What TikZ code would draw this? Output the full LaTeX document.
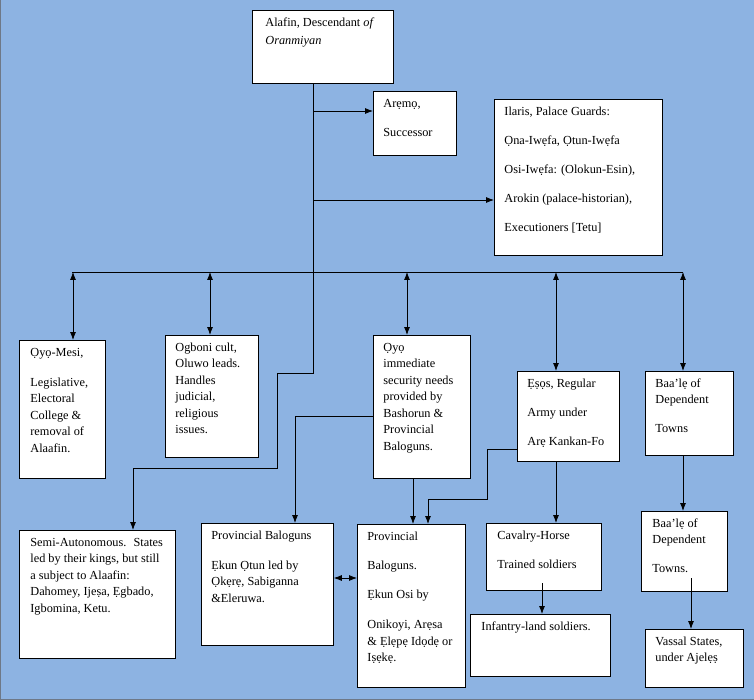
\documentclass[tikz,border=0pt]{standalone}
\usepackage{fontspec}
\setmainfont{Liberation Serif}
\usepackage{tikz}
\usetikzlibrary{arrows.meta,positioning}
\definecolor{skyback}{RGB}{141,179,226}
\definecolor{edgegray}{RGB}{110,120,135}
\tikzset{
  >={Latex[length=8pt,width=6pt]},
  box/.style={draw, fill=white, line width=0.8pt, inner sep=0pt, anchor=north west,
              font=\fontsize{12.3}{16.5}\selectfont},
  link/.style={line width=0.8pt},
}
% width, height, left pad, text
\newcommand{\boxtext}[4]{%
  \parbox[c][#2pt][t]{#1pt}{\raggedright\leftskip=#3pt\vspace*{4.5pt}\strut#4}}

\begin{document}
\begin{tikzpicture}[x=1pt, y=-1pt]
    \useasboundingbox[fill=skyback] (0,0) rectangle (754,700);
    \draw[edgegray, line width=1pt] (0.5,0) -- (0.5,699.5) -- (754,699.5);

    \node[box] (alafin) at (252,10)  {\boxtext{141}{73}{13}{Alafin, Descendant \textit{of}\\[1.5pt]\textit{Oranmiyan}}};
    \node[box] (aremo)  at (373,91)  {\boxtext{83}{64}{10}{Arẹmọ,\\[13pt]Successor}};
    \node[box] (ilaris) at (494,99)  {\boxtext{168}{156}{10}{Ilaris, Palace Guards:\\[12.5pt]Ọna-Iwẹfa, Ọtun-Iwẹfa\\[12.5pt]Osi-Iwẹfa: (Olokun-Esin),\\[12.5pt]Arokin (palace-historian),\\[12.5pt]Executioners [Tetu]}};

    \node[box] (mesi)   at (19,340)  {\boxtext{86}{138}{11}{Ọyọ-Mesi,\\[13.5pt]Legislative,\\Electoral\\College \&\\removal of\\Alaafin.}};
    \node[box] (ogboni) at (165,335) {\boxtext{93}{122}{10}{Ogboni cult,\\Oluwo leads.\\Handles\\judicial,\\religious\\issues.}};
    \node[box] (oyo)    at (373,335) {\boxtext{97}{143}{10}{Ọyọ\\immediate\\security needs\\provided by\\Bashorun \&\\Provincial\\Baloguns.}};
    \node[box] (esos)   at (517,371) {\boxtext{102}{90}{10}{Ẹṣọs, Regular\\[12.5pt]Army under\\[12.5pt]Arẹ Kankan-Fo}};
    \node[box] (baale)  at (645,371) {\boxtext{88}{84}{10}{Baa’lẹ of\\Dependent\\[12.5pt]Towns}};

    \node[box] (semi)   at (19,530)  {\boxtext{156}{128}{11}{Semi-Autonomous.~ States\\led by their kings, but still\\a subject to Alaafin:\\Dahomey, Ijeṣa, Ẹgbado,\\Igbomina, Ketu.}};
    \node[box] (prov)   at (201,523) {\boxtext{132}{122}{10}{Provincial Baloguns\\[13.5pt]Ẹkun Ọtun led by\\Ọkẹrẹ, Sabiganna\\\&Eleruwa.}};
    \node[box] (osi)    at (357,524) {\boxtext{108}{163}{10}{Provincial\\[13pt]Baloguns.\\[12.5pt]Ẹkun Osi by\\[13.5pt]Onikoyi, Arẹsa\\\& Ẹlẹpẹ Idọdẹ or\\Iṣẹkẹ.}};
    \node[box] (cav)    at (486,523) {\boxtext{115}{67}{11}{Cavalry-Horse\\[12.5pt]Trained soldiers}};
    \node[box] (inf)    at (470,614) {\boxtext{140}{62}{11}{Infantry-land soldiers.}};
    \node[box] (baaletwo) at (641,511) {\boxtext{86}{80}{11}{Baa’lẹ of\\Dependent\\[12.5pt]Towns.}};
    \node[box] (vassal) at (645,629) {\boxtext{98}{58}{10}{Vassal States,\\under Ajelẹṣ}};

    % trunk from the Alafin
    \coordinate (toaremo)  at (313,111);
    \coordinate (toilaris) at (313,200);
    \coordinate (bend1)    at (313,373);
    \coordinate (bend2)    at (277,373);
    \coordinate (bend3)    at (277,468);
    \coordinate (bend4)    at (133,468);
    \draw[link] (alafin.south -| bend1) -- (bend1) -- (bend2) -- (bend3) -- (bend4);
    \draw[link, ->] (bend4) -- (bend4 |- semi.north);
    \draw[link, ->] (toaremo) -- (toaremo -| aremo.west);
    \draw[link, ->] (toilaris) -- (toilaris -| ilaris.west);

    % bus
    \coordinate (busleft)  at (72,272);
    \coordinate (busright) at (683,272);
    \draw[link] (busleft) -- (busright);
    \foreach \x/\n in {73/mesi, 210/ogboni, 407/oyo, 556/esos, 683/baale}
      \draw[link, <->] (\x,272) -- (\x,0 |- \n.north);

    % lower links
    \coordinate (oyobend) at (295,416);
    \draw[link, ->] (oyobend -| oyo.west) -- (oyobend) -- (oyobend |- prov.north);
    \draw[link, ->] (413,0 |- oyo.south) -- (413,0 |- osi.north);
    \coordinate (esosbend1) at (487,449);
    \coordinate (esosbend2) at (428,499);
    \draw[link, ->] (esosbend1 -| esos.west) -- (esosbend1) |- (esosbend2) -- (esosbend2 |- osi.north);
    \draw[link, ->] (556,0 |- esos.south) -- (556,0 |- cav.north);
    \draw[link, ->] (542,583) -- (542,0 |- inf.north);
    \draw[link, ->] (683,0 |- baale.south) -- (683,0 |- baaletwo.north);
    \draw[link, ->] (691,578) -- (691,0 |- vassal.north);
    \draw[link, <->] (prov.east |- 0,578) -- (osi.west |- 0,578);
  \end{tikzpicture}
\end{document}
